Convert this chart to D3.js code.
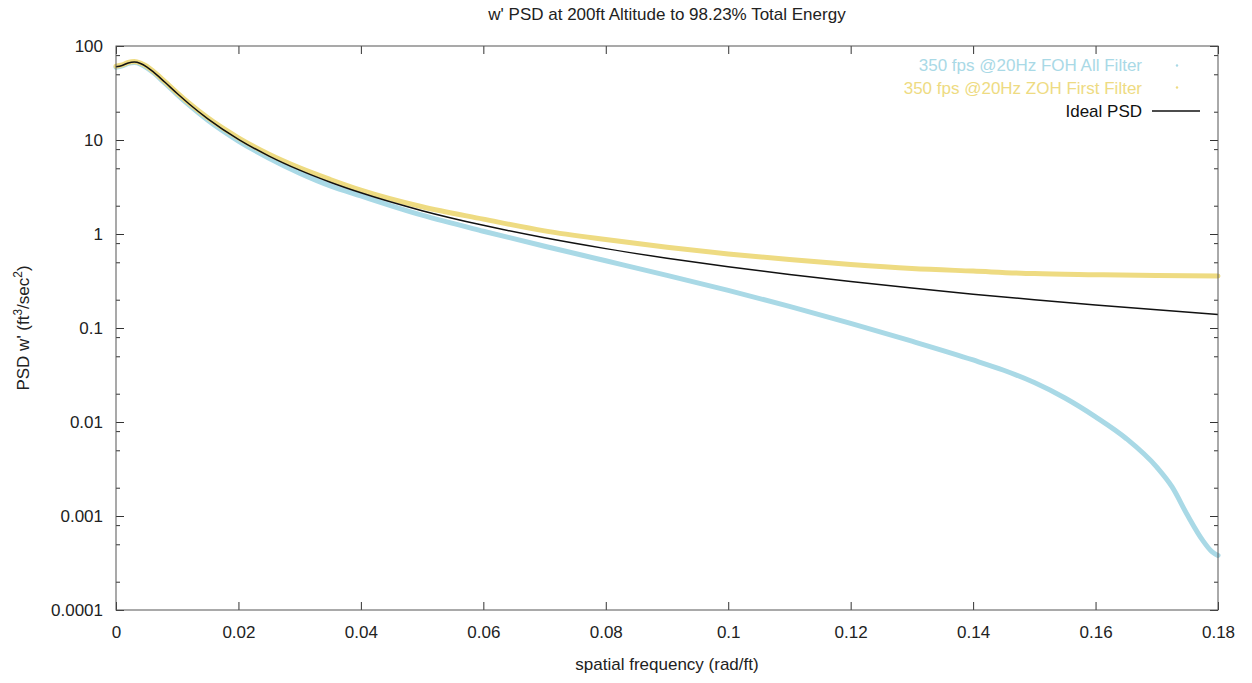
<!DOCTYPE html>
<html>
<head>
<meta charset="utf-8">
<script src="https://cdn.jsdelivr.net/npm/d3@7/dist/d3.min.js"></script>
<style>
  html, body { margin: 0; padding: 0; background: #fff; }
  svg { display: block; font-family: "Liberation Sans", Arial, Helvetica, sans-serif; }
</style>
</head>
<body>
<svg id="chart" width="1252" height="683"></svg>
<script>
// Spatial frequency samples (rad/ft)
const idealFreq = [0, 0.001, 0.002, 0.003, 0.004, 0.005, 0.006, 0.008, 0.01, 0.012, 0.015,
  0.02, 0.025, 0.03, 0.035, 0.04, 0.05, 0.06, 0.07, 0.08, 0.09, 0.1, 0.11, 0.12, 0.13,
  0.14, 0.15, 0.16, 0.17, 0.18];
// Ideal w' PSD (ft^3/sec^2)
const idealPsd = [60, 62.13, 65.99, 67.47, 65.14, 60, 53.61, 41.09, 31.2, 24.0, 16.8,
  10.17, 6.746, 4.777, 3.552, 2.741, 1.770, 1.236, 0.911, 0.699, 0.553, 0.448, 0.371, 0.312, 0.266,
  0.229, 0.200, 0.176, 0.156, 0.139];

// 350 fps @20Hz ZOH First Filter
const zohFreq = [0, 0.001, 0.002, 0.003, 0.004, 0.005, 0.006, 0.008, 0.01, 0.012, 0.015,
  0.02, 0.025, 0.03, 0.035, 0.04, 0.05, 0.06, 0.07, 0.08, 0.09, 0.1, 0.11, 0.12, 0.13,
  0.14, 0.15, 0.16, 0.17, 0.18];
const zohPsd = [61, 63, 67, 68.5, 66, 61, 54.5, 41.8, 31.8, 24.5, 17.2,
  10.55, 7.05, 5.05, 3.8, 2.93, 1.95, 1.44, 1.08, 0.873, 0.724, 0.614, 0.534, 0.474, 0.430,
  0.403, 0.379, 0.369, 0.361, 0.357];

// 350 fps @20Hz FOH All Filter
const fohFreq = [0, 0.001, 0.002, 0.003, 0.004, 0.005, 0.006, 0.008, 0.01, 0.012, 0.015,
  0.02, 0.025, 0.03, 0.035, 0.04, 0.05, 0.06, 0.07, 0.08, 0.09, 0.1, 0.11, 0.12, 0.13,
  0.14, 0.145, 0.15, 0.155, 0.16, 0.165, 0.17, 0.1725, 0.175, 0.1775, 0.179, 0.18];
const fohPsd = [59.5, 61.5, 65.3, 66.6, 64.2, 59, 52.7, 40.2, 30.4, 23.3, 16.2,
  9.75, 6.4, 4.44, 3.25, 2.54, 1.585, 1.07, 0.741, 0.519, 0.363, 0.251, 0.17, 0.112, 0.0724,
  0.0457, 0.0355, 0.0263, 0.018, 0.01135, 0.00668, 0.00331, 0.00204, 0.001023, 0.00055, 0.000417, 0.00038];

// Axis ticks
const xTicks = [0, 0.02, 0.04, 0.06, 0.08, 0.1, 0.12, 0.14, 0.16, 0.18];
const xTickLabels = ["0", "0.02", "0.04", "0.06", "0.08", "0.1", "0.12", "0.14", "0.16", "0.18"];
const yTicks = [0.0001, 0.001, 0.01, 0.1, 1, 10, 100];
const yTickLabels = ["0.0001", "0.001", "0.01", "0.1", "1", "10", "100"];
const yMinorMultipliers = [2, 5, 8];

const seriesNames = ["350 fps @20Hz FOH All Filter", "350 fps @20Hz ZOH First Filter", "Ideal PSD"];
const seriesColors = ["#a9d9e6", "#eedb82", "#111111"];

const svg = d3.select("#chart");
const plotLeft = 116, plotRight = 1218, plotTop = 46, plotBottom = 610;
const fontSize = 17;

const x = d3.scaleLinear().domain([0, 0.18]).range([plotLeft, plotRight]);
const y = d3.scaleLog().domain([0.0001, 100]).range([plotBottom, plotTop]);

// Title
svg.append("text")
  .attr("x", (plotLeft + plotRight) / 2).attr("y", 20)
  .attr("text-anchor", "middle").attr("font-size", fontSize).attr("fill", "#222")
  .text("w' PSD at 200ft Altitude to 98.23% Total Energy");

// Minor ticks on the log axis
const minorTicks = [];
yTicks.slice(0, -1).forEach(d => yMinorMultipliers.forEach(m => minorTicks.push(d * m)));

const tickColor = "#333";
const axisG = svg.append("g");

// Bottom axis with labels
axisG.append("g")
  .attr("transform", `translate(0,${plotBottom})`)
  .call(d3.axisBottom(x).tickValues(xTicks).tickSize(-8).tickPadding(16)
    .tickFormat((d, i) => xTickLabels[i]))
  .call(g => g.select(".domain").remove())
  .call(g => g.selectAll("line").attr("stroke", tickColor))
  .call(g => g.selectAll("text").attr("font-size", fontSize).attr("fill", "#222")
    .attr("font-family", "Liberation Sans, Arial, sans-serif"));

// Top axis (mirrored ticks)
axisG.append("g")
  .attr("transform", `translate(0,${plotTop})`)
  .call(d3.axisTop(x).tickValues(xTicks).tickSize(-8).tickFormat(""))
  .call(g => g.select(".domain").remove())
  .call(g => g.selectAll("line").attr("stroke", tickColor));

// Left axis with labels
axisG.append("g")
  .attr("transform", `translate(${plotLeft},0)`)
  .call(d3.axisLeft(y).tickValues(yTicks).tickSize(-8).tickPadding(13)
    .tickFormat((d, i) => yTickLabels[i]))
  .call(g => g.select(".domain").remove())
  .call(g => g.selectAll("line").attr("stroke", tickColor))
  .call(g => g.selectAll("text").attr("font-size", fontSize).attr("fill", "#222")
    .attr("font-family", "Liberation Sans, Arial, sans-serif"));

axisG.append("g")
  .attr("transform", `translate(${plotLeft},0)`)
  .call(d3.axisLeft(y).tickValues(minorTicks).tickSize(-4).tickFormat(""))
  .call(g => g.select(".domain").remove())
  .call(g => g.selectAll("line").attr("stroke", tickColor));

// Right axis (mirrored ticks)
axisG.append("g")
  .attr("transform", `translate(${plotRight},0)`)
  .call(d3.axisRight(y).tickValues(yTicks).tickSize(-8).tickFormat(""))
  .call(g => g.select(".domain").remove())
  .call(g => g.selectAll("line").attr("stroke", tickColor));

axisG.append("g")
  .attr("transform", `translate(${plotRight},0)`)
  .call(d3.axisRight(y).tickValues(minorTicks).tickSize(-4).tickFormat(""))
  .call(g => g.select(".domain").remove())
  .call(g => g.selectAll("line").attr("stroke", tickColor));

// Series
const plot = svg.append("g");
const line = d3.line().curve(d3.curveMonotoneX);

function pts(fs, vs) { return fs.map((f, i) => [x(f), y(vs[i])]); }

plot.append("path")
  .attr("d", line(pts(fohFreq, fohPsd)))
  .attr("fill", "none").attr("stroke", seriesColors[0])
  .attr("stroke-width", 5).attr("stroke-linejoin", "round").attr("stroke-linecap", "round");

plot.append("path")
  .attr("d", line(pts(zohFreq, zohPsd)))
  .attr("fill", "none").attr("stroke", seriesColors[1])
  .attr("stroke-width", 5).attr("stroke-linejoin", "round").attr("stroke-linecap", "round");

plot.append("path")
  .attr("d", line(pts(idealFreq, idealPsd)))
  .attr("fill", "none").attr("stroke", seriesColors[2])
  .attr("stroke-width", 1.5).attr("stroke-linejoin", "round");

// Plot border
svg.append("rect")
  .attr("x", plotLeft).attr("y", plotTop)
  .attr("width", plotRight - plotLeft).attr("height", plotBottom - plotTop)
  .attr("fill", "none").attr("stroke", "#555").attr("stroke-width", 1);

// Legend
const legendRows = [65.5, 88.5, 111];
const legend = svg.append("g").attr("font-size", fontSize);
seriesNames.forEach((name, i) => {
  legend.append("text")
    .attr("x", 1142).attr("y", legendRows[i]).attr("dy", "0.35em")
    .attr("text-anchor", "end").attr("fill", seriesColors[i])
    .text(name);
});
legend.append("circle").attr("cx", 1177).attr("cy", legendRows[0]).attr("r", 1.2).attr("fill", seriesColors[0]);
legend.append("circle").attr("cx", 1177).attr("cy", legendRows[1] - 1).attr("r", 1.2).attr("fill", seriesColors[1]);
legend.append("line")
  .attr("x1", 1152).attr("x2", 1200).attr("y1", legendRows[2]).attr("y2", legendRows[2])
  .attr("stroke", seriesColors[2]).attr("stroke-width", 1.5);

// Axis titles
svg.append("text")
  .attr("x", (plotLeft + plotRight) / 2).attr("y", 670)
  .attr("text-anchor", "middle").attr("font-size", fontSize).attr("fill", "#222")
  .text("spatial frequency (rad/ft)");

const yLabel = svg.append("text")
  .attr("transform", `translate(29,${(plotTop + plotBottom) / 2}) rotate(-90)`)
  .attr("text-anchor", "middle").attr("font-size", fontSize).attr("fill", "#222");
yLabel.append("tspan").text("PSD w' (ft");
yLabel.append("tspan").attr("dy", -7).attr("font-size", fontSize * 0.7).text("3");
yLabel.append("tspan").attr("dy", 7).text("/sec");
yLabel.append("tspan").attr("dy", -7).attr("font-size", fontSize * 0.7).text("2");
yLabel.append("tspan").attr("dy", 7).text(")");
</script>
</body>
</html>
